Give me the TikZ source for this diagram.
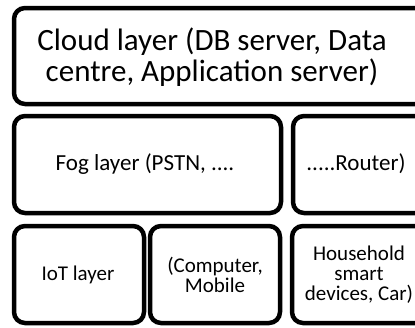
\documentclass[tikz,border=0pt]{standalone}
\usepackage{fontspec}
\setmainfont{Carlito}
\begin{document}
\begin{tikzpicture}[x=1pt,y=-1pt,
  layerbox/.style={draw=black,line width=4.5pt,rounded corners=11pt,fill=white},
  big/.style={font=\fontsize{31}{31.5}\selectfont,align=center},
  mid/.style={font=\fontsize{23}{26}\selectfont,align=center},
  small/.style={font=\fontsize{21}{20}\selectfont,align=center}]
\useasboundingbox (0,0) rectangle (415,327);
\begin{scope}
\clip (0,0) rectangle (415,327);
\draw[layerbox] (14,8) rectangle (432,104);
\draw[layerbox] (14,116) rectangle (281,213);
\draw[layerbox] (293,116) rectangle (432,213);
\draw[layerbox] (14,226) rectangle (144,323);
\draw[layerbox] (150,226) rectangle (280,323);
\draw[layerbox] (292,226) rectangle (432,323);
\end{scope}
\node[big] (cloud) at (212,57) {Cloud layer (DB server, Data\\centre, Application server)};
\node[mid] (fog) at (145,164) {Fog layer (PSTN, ....};
\node[mid] (router) at (356,164) {.....Router)};
\node[small] (iot) at (78,275) {IoT layer};
\node[small] (comp) at (215,275) {(Computer,\\Mobile};
\node[small] (house) at (359,275) {Household\\smart\\devices, Car)};
\end{tikzpicture}
\end{document}
